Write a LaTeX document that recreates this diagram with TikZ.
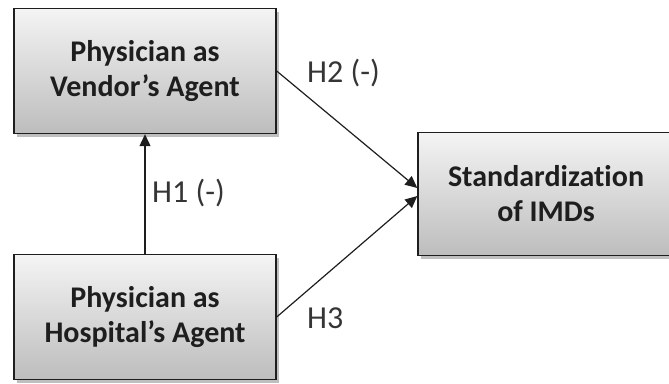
\documentclass[tikz,border=0pt]{standalone}
\usepackage{fontspec}
\setmainfont{Carlito}[Ligatures=NoCommon]
\usepackage{tikz}
\usetikzlibrary{arrows.meta, positioning, calc, shadows}
\usepackage{xcolor}
\definecolor{boxtop}{HTML}{F4F4F4}
\definecolor{boxbottom}{HTML}{BDBDBD}
\definecolor{inkdark}{HTML}{1E1E1E}

\begin{document}
\begin{tikzpicture}[x=1pt, y=-1pt,
    agentbox/.style={draw=inkdark, line width=1.4pt, top color=boxtop, bottom color=boxbottom,
        drop shadow={shadow xshift=3pt, shadow yshift=-3pt, opacity=0.25, fill=black},
        minimum width=262pt, minimum height=125pt, align=center, inner sep=0pt,
        font=\fontsize{30}{35}\selectfont\bfseries, text=inkdark},
    hyplabel/.style={font=\fontsize{32}{36}\selectfont, text=inkdark!90, inner sep=0pt},
    link/.style={draw=inkdark, line width=1.2pt, -{Triangle[length=12pt, width=11pt]}}]
    \useasboundingbox (0,0) rectangle (669,383);
    % boxes
    \node[agentbox] (vendor) at (145,71) {Physician as\\Vendor’s Agent};
    \node[agentbox] (hospital) at (145,317) {Physician as\\Hospital’s Agent};
    \node[agentbox, minimum width=256pt, minimum height=123pt] (std) at (546,194) {Standardization\\of IMDs};
    % hypotheses
    \draw[link] (hospital.north) -- (vendor.south);
    \draw[link] (vendor.east) -- ([yshift=6pt]std.west);
    \draw[link] (hospital.east) -- ([yshift=-2pt]std.west);
    \node[hyplabel, anchor=base west] (h1) at (152,202) {H1 (-)};
    \node[hyplabel, anchor=base west] (h2) at (307,82) {H2 (-)};
    \node[hyplabel, anchor=base west] (h3) at (307,328) {H3};
\end{tikzpicture}
\end{document}
